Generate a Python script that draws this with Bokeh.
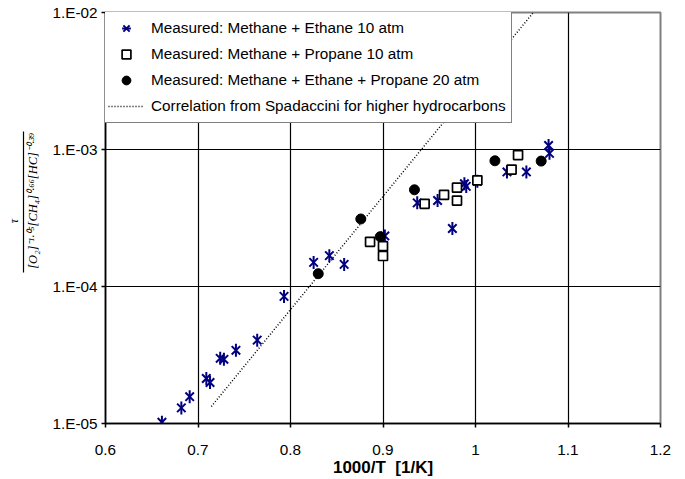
import math
from bokeh.plotting import figure
from bokeh.models import (Range1d, FixedTicker, CustomJSTickFormatter, Legend,
                          LegendItem, LinearAxis, LinearScale)
from bokeh.embed import file_html
from bokeh.resources import INLINE

# ---------------- data ----------------
ethane_x = [0.661, 0.682, 0.691, 0.709, 0.713, 0.724, 0.728, 0.741, 0.764, 0.793,
            0.825, 0.842, 0.858, 0.902, 0.937, 0.959, 0.975, 0.988, 0.990, 1.002,
            1.034, 1.055, 1.079, 1.080]
ethane_y = [1.02e-5, 1.30e-5, 1.57e-5, 2.13e-5, 1.99e-5, 2.99e-5, 2.94e-5, 3.42e-5,
            4.06e-5, 8.47e-5, 1.50e-4, 1.68e-4, 1.45e-4, 2.34e-4, 4.08e-4, 4.24e-4,
            2.65e-4, 5.63e-4, 5.38e-4, 5.86e-4, 6.86e-4, 6.86e-4, 1.07e-3, 9.37e-4]

propane_x = [0.886, 0.900, 0.900, 0.945, 0.966, 0.980, 0.980, 1.002, 1.039, 1.046]
propane_y = [2.12e-4, 1.97e-4, 1.67e-4, 4.01e-4, 4.67e-4, 5.26e-4, 4.24e-4, 5.96e-4,
             7.14e-4, 9.10e-4]

mix_x = [0.830, 0.876, 0.897, 0.934, 1.021, 1.071]
mix_y = [1.24e-4, 3.11e-4, 2.31e-4, 5.08e-4, 8.27e-4, 8.23e-4]

corr_x = [0.7144, 1.0675]
corr_y = [1.33e-5, 1.10e-2]

x_ticks = [0.6, 0.7, 0.8, 0.9, 1.0, 1.1, 1.2]
y_ticks = [1e-5, 1e-4, 1e-3, 1e-2]

legend_labels = ["Measured: Methane + Ethane 10 atm",
                 "Measured: Methane + Propane 10 atm",
                 "Measured: Methane + Ethane + Propane 20 atm",
                 "Correlation from Spadaccini for higher hydrocarbons"]
x_title = "1000/T\u00a0 [1/K]"
y_numerator = "\u03c4"
y_denominator = "[O\u2082]\u207b\u00b9\u00b7\u2070\u2075[CH\u2084]\u2070\u00b7\u2076\u2076[HC]\u207b\u2070\u00b7\u00b3\u2079"

# ---------------- figure ----------------
W, H = 685, 479
ML, MR, MT, MB = 105, 25, 12, 56

p = figure(width=W, height=H, x_range=Range1d(0.6, 1.2), y_range=Range1d(1e-5, 1e-2),
           y_axis_type="log", output_backend="svg", toolbar_location=None,
           min_border_left=ML, min_border_right=MR, min_border_top=MT,
           min_border_bottom=MB, background_fill_color="white",
           border_fill_color="white")
p.outline_line_color = "#808080"
p.outline_line_width = 2

FONT = "Liberation Sans"
SERIF = "Liberation Serif"
for ax in (p.xaxis[0], p.yaxis[0]):
    ax.axis_line_color = "black"
    ax.axis_line_width = 1.5
    ax.major_tick_line_color = "black"
    ax.major_tick_line_width = 1.5
    ax.major_tick_in = 0
    ax.major_tick_out = 4
    ax.minor_tick_line_color = None
    ax.major_label_text_font = FONT
    ax.major_label_text_font_size = "15.3px"
    ax.major_label_text_color = "black"

p.xaxis.ticker = FixedTicker(ticks=x_ticks)
p.yaxis.ticker = FixedTicker(ticks=y_ticks)
p.xaxis.formatter = CustomJSTickFormatter(code="return String(Math.round(tick*10)/10);")
p.yaxis.formatter = CustomJSTickFormatter(code="""
const e = Math.round(Math.log10(tick));
const a = Math.abs(e);
return "1.E" + (e < 0 ? "-" : "+") + (a < 10 ? "0" : "") + a;
""")
p.xaxis.major_label_standoff = 17
p.yaxis.major_label_standoff = 4

# x-axis title
p.xaxis.axis_label = x_title
p.xaxis.axis_label_text_font = FONT
p.xaxis.axis_label_text_font_size = "17px"
p.xaxis.axis_label_text_font_style = "bold"
p.xaxis.axis_label_text_color = "black"
p.xaxis.axis_label_standoff = 0

# y-axis title: denominator on the main axis (shifted up with leading spaces)
NB = "\u00a0"
p.yaxis.axis_label = NB * 11 + y_denominator
p.yaxis.axis_label_text_font = SERIF
p.yaxis.axis_label_text_font_size = "12.5px"
p.yaxis.axis_label_text_font_style = "italic"
p.yaxis.axis_label_text_color = "black"
p.yaxis.axis_label_standoff = 9

# fraction bar + numerator: an extra, tick-less axis whose line is the bar
p.extra_y_ranges = {"bar": Range1d(0, 1)}
p.extra_y_scales = {"bar": LinearScale()}
bar_axis = LinearAxis(y_range_name="bar", ticker=FixedTicker(ticks=[]),
                      bounds=(0.3685, 0.7096), axis_line_color="black",
                      axis_line_width=1.2, major_tick_out=0, major_tick_in=0,
                      major_label_standoff=0, major_tick_line_color=None,
                      minor_tick_line_color=None,
                      axis_label=y_numerator + NB * 2, axis_label_standoff=3,
                      axis_label_text_font=SERIF, axis_label_text_font_style="italic",
                      axis_label_text_font_size="12px", axis_label_text_color="black")
p.add_layout(bar_axis, "left")

p.xgrid.grid_line_color = "black"
p.xgrid.grid_line_width = 1.2
p.ygrid.grid_line_color = "black"
p.ygrid.grid_line_width = 1.2

# ---------------- glyphs ----------------
NAVY = "#000080"
r_star_x = p.scatter(ethane_x, ethane_y, marker="x", size=12, line_color=NAVY,
                     line_width=2)
r_star_v = p.scatter(ethane_x, ethane_y, marker="dash", angle=math.pi / 2, size=13,
                     line_color=NAVY, line_width=2)
r_sq = p.scatter(propane_x, propane_y, marker="square", size=9, line_color="black",
                 fill_color="white", line_width=1.7)
r_dot = p.scatter(mix_x, mix_y, marker="circle", size=10, line_color="black",
                  fill_color="black")
r_corr = p.line(corr_x, corr_y, line_color="black", line_width=1.5, line_dash="1 2")

legend = Legend(items=[LegendItem(label=legend_labels[0], renderers=[r_star_x, r_star_v]),
                       LegendItem(label=legend_labels[1], renderers=[r_sq]),
                       LegendItem(label=legend_labels[2], renderers=[r_dot]),
                       LegendItem(label=legend_labels[3], renderers=[r_corr])],
                location=(-3, 300), margin=0, padding=5, spacing=4,
                label_height=22, glyph_height=22, glyph_width=36, label_standoff=7,
                label_text_font=FONT, label_text_font_size="15.3px",
                label_text_color="black", border_line_color="black",
                border_line_width=1.5, background_fill_color="white",
                background_fill_alpha=1.0)
p.add_layout(legend, "center")

open("out.html", "w").write(file_html(p, INLINE))
